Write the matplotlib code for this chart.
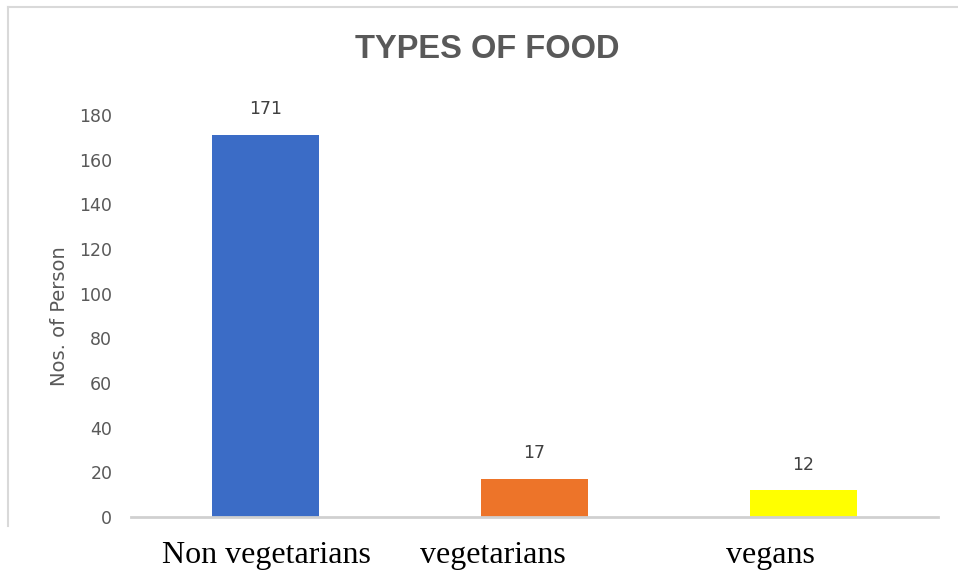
import matplotlib.pyplot as plt
from matplotlib.lines import Line2D

# Survey counts per diet type
categories = ['Non vegetarians', 'vegetarians', 'vegans']
counts = [171, 17, 12]
bar_colors = ['#3b6cc6', '#ed7429', '#ffff00']
yticks = [0, 20, 40, 60, 80, 100, 120, 140, 160, 180]

W, H = 958, 574
fig = plt.figure(figsize=(W / 100, H / 100), dpi=100)
ax = fig.add_axes([131 / W, (H - 517) / H, (938 - 131) / W, (517 - 115) / H])

x = range(len(categories))
bars = ax.bar(x, counts, width=0.4, color=bar_colors, zorder=2)
ax.bar_label(bars, labels=[str(v) for v in counts], padding=12,
             fontsize=12.5, color='#404040', family='DejaVu Sans')

ax.set_xlim(-0.5, len(categories) - 0.5)
ax.set_ylim(0, 180)
ax.set_yticks(yticks)
ax.set_yticklabels([str(t) for t in yticks], fontsize=12.5, color='#595959',
                   family='DejaVu Sans')
ax.tick_params(axis='y', length=0, pad=13.5)
ax.set_xticks([])

for s in ['top', 'right', 'left']:
    ax.spines[s].set_visible(False)
ax.spines['bottom'].set_color('#d0d0d0')
ax.spines['bottom'].set_linewidth(2)

ax.set_ylabel('Nos. of Person', fontsize=14, color='#595959',
              family='DejaVu Sans', labelpad=7)

fig.text(487 / W, 1 - 50 / H, 'TYPES OF FOOD', ha='center', va='center',
         fontsize=23.5, fontweight='bold', color='#595959',
         family='Liberation Sans')

# category names sit under the chart frame
label_x = [266, 493, 770]
for name, lx in zip(categories, label_x):
    fig.text(lx / W, 1 - 555 / H, name, ha='center', va='center',
             fontsize=23, color='black', family='Liberation Serif')

# chart frame (left and top edges)
fig.add_artist(Line2D([8 / W, 8 / W], [1 - 526 / H, 1 - 7 / H],
                      transform=fig.transFigure, color='#d9d9d9', lw=1.5))
fig.add_artist(Line2D([8 / W, 1.0], [1 - 7 / H, 1 - 7 / H],
                      transform=fig.transFigure, color='#d9d9d9', lw=1.5))

fig.savefig('out.png', dpi=100, facecolor='white')
